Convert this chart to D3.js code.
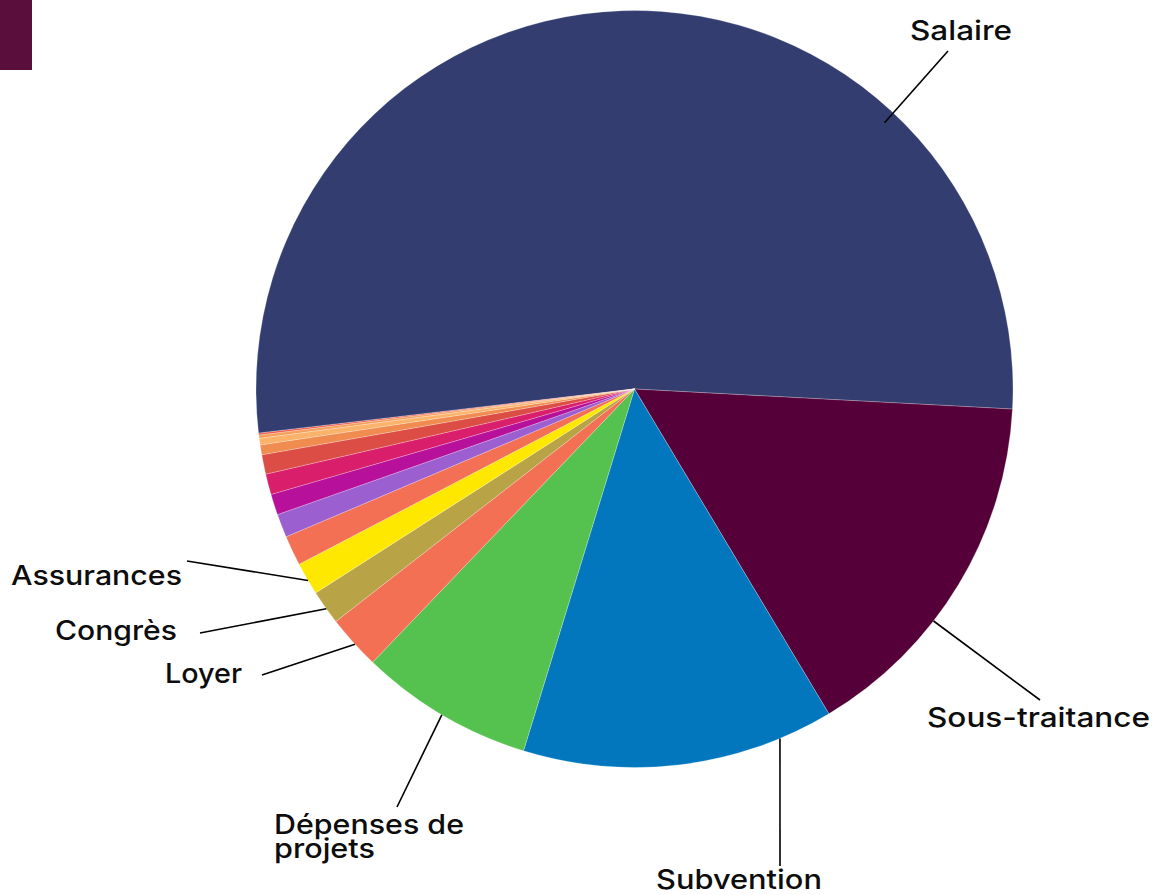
<!DOCTYPE html>
<html><head><meta charset="utf-8">
<script src="https://cdn.jsdelivr.net/npm/d3@7"></script>
<style>html,body{margin:0;padding:0;background:#fff;overflow:hidden}</style>
</head><body><svg id="chart" width="1170" height="895"></svg>
<script>
// Data (share of total, %)
const categories = ["Salaire","Sous-traitance","Subvention","Dépenses de projets","Loyer","Congrès","Assurances",
  "Autre 1","Autre 2","Autre 3","Autre 4","Autre 5","Autre 6","Autre 7","Autre 8","Autre 9"];
const values = [52.67,15.56,13.31,7.42,2.31,1.47,1.39,1.28,1.00,0.89,0.88,0.83,0.42,0.28,0.14,0.08];
const colors = ["#333d70","#550038","#0277bd","#55c250","#f37054","#b8a446","#ffe800",
  "#f37054","#9b5fd0","#b7119c","#d91e6b","#dc4e45","#f08c50","#fbb36b","#f5a05c","#ee5c4c"];

// Label layout: anchor angle on the pie (deg), radius factor, line end, text lines [text, x-left, baseline, width]
const labelLayout = [
  {name:"Salaire", angle:43.2, rf:0.965, end:[948,51], lines:[["Salaire",910,40,102]]},
  {name:"Sous-traitance", angle:127.8, rf:1.0, end:[1040,700], lines:[["Sous-traitance",927,727,223]]},
  {name:"Subvention", angle:157.4, rf:1.0, end:[780,866], lines:[["Subvention",656,889,166]]},
  {name:"Dépenses de projets", angle:210.6, rf:1.0, end:[397,807], lines:[["Dépenses de",274,834,190],["projets",274,858,101]]},
  {name:"Loyer", angle:227.6, rf:1.0, end:[262,675], lines:[["Loyer",165,683,77]]},
  {name:"Congrès", angle:234.5, rf:1.0, end:[200,633], lines:[["Congrès",55,640,122]]},
  {name:"Assurances", angle:239.6, rf:1.0, end:[187,561], lines:[["Assurances",11,585,171]]}
];

const svg = d3.select("#chart");
const cx = 634.5, cy = 389, R = 378.5;

svg.append("rect").attr("x",0).attr("y",0).attr("width",32).attr("height",70).attr("fill","#5a0e3b");

const start = -96.7 * Math.PI/180;
const pie = d3.pie().value(d=>d.v).sort(null).startAngle(start).endAngle(start + 2*Math.PI);
const data = categories.map((c,i)=>({c, v:values[i], col:colors[i]}));
const arcs = pie(data);
const arc = d3.arc().innerRadius(0).outerRadius(R);
const g = svg.append("g").attr("transform",`translate(${cx},${cy})`);
g.selectAll("path").data(arcs).join("path")
  .attr("d",arc).attr("fill",d=>d.data.col)
  .attr("stroke","#ffffff").attr("stroke-width",0.4).attr("stroke-opacity",0.6);

const font = "Inter, 'Open Sans', sans-serif";
labelLayout.forEach(l=>{
  const a = l.angle*Math.PI/180;
  const x0 = cx + Math.sin(a)*R*l.rf, y0 = cy - Math.cos(a)*R*l.rf;
  svg.append("line").attr("x1",x0).attr("y1",y0).attr("x2",l.end[0]).attr("y2",l.end[1])
    .attr("stroke","#000").attr("stroke-width",1.6);
  l.lines.forEach(([s,x,y,w])=>{
    svg.append("text").attr("x",x).attr("y",y)
      .attr("font-family",font).attr("font-size",27).attr("font-weight",500)
      .attr("fill","#0d0d0d").attr("textLength",w).attr("lengthAdjust","spacingAndGlyphs").text(s);
  });
});
</script></body></html>
